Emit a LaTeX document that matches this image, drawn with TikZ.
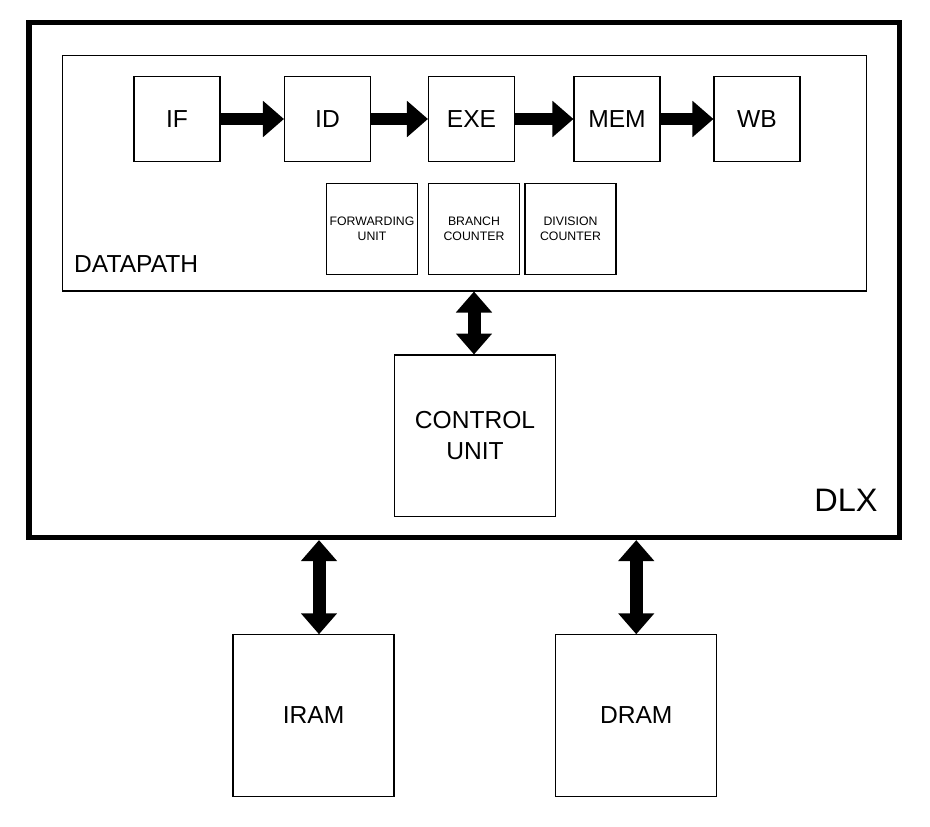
\documentclass[tikz,border=0pt]{standalone}
\usepackage{fontspec}
\setmainfont{Liberation Sans}
\usetikzlibrary{arrows.meta}
\tikzset{
  stage/.style={draw,line width=0.6pt,minimum width=1.72cm,minimum height=1.7cm,inner sep=0pt,font=\fontsize{14}{17.6}\selectfont},
  unitbox/.style={draw,line width=0.6pt,minimum width=1.82cm,minimum height=1.83cm,inner sep=0pt,align=center,font=\fontsize{7}{8.6}\selectfont},
  bigbox/.style={draw,line width=0.6pt,minimum width=3.22cm,minimum height=3.23cm,inner sep=0pt,align=center,font=\fontsize{14}{17.6}\selectfont},
  fatarrow/.style={line width=0.24cm,-{Triangle[width=0.7cm,length=0.42cm]}},
  dblarrow/.style={line width=0.26cm,{Triangle[width=0.7cm,length=0.42cm]}-{Triangle[width=0.7cm,length=0.42cm]}}
}
\begin{document}
\begin{tikzpicture}[x=0.02cm,y=-0.02cm]
  \useasboundingbox (0,0) rectangle (930,826);
  % outer boxes
  \node[draw,line width=3pt,minimum width=17.41cm,minimum height=10.3cm] (dlx) at (464.25,280) {};
  \node[draw,line width=0.6pt,minimum width=16.1cm,minimum height=4.72cm] (dp) at (464.5,173) {};
  % pipeline stages
  \node[stage] (if) at (177,119) {IF};
  \node[stage] (id) at (327.5,119) {ID};
  \node[stage] (exe) at (471.5,119) {EXE};
  \node[stage] (mem) at (617,119) {MEM};
  \node[stage] (wb) at (757,119) {WB};
  % small units
  \node[unitbox] (fwd) at (372,229) {FORWARDING\\UNIT};
  \node[unitbox] (brc) at (474,229) {BRANCH\\COUNTER};
  \node[unitbox] (dvc) at (570.5,229) {DIVISION\\COUNTER};
  % control and memories
  \node[bigbox] (cu) at (475,435.75) {CONTROL\\UNIT};
  \node[bigbox] (iram) at (313.5,715.5) {IRAM};
  \node[bigbox] (dram) at (636.25,715.5) {DRAM};
  % arrows
  \draw[fatarrow] (if) -- (id);
  \draw[fatarrow] (id) -- (exe);
  \draw[fatarrow] (exe) -- (mem);
  \draw[fatarrow] (mem) -- (wb);
  \draw[dblarrow] ([xshift=-0.02cm]cu.north |- dp.south) -- ([xshift=-0.02cm]cu.north);
  \draw[dblarrow] ([xshift=0.11cm]iram.north |- dlx.south) -- ([xshift=0.11cm]iram.north);
  \draw[dblarrow] (dram.north |- dlx.south) -- (dram.north);
  % text
  \node[anchor=west,font=\fontsize{14}{17}\selectfont] (dplabel) at (68,264) {DATAPATH};
  \node[font=\fontsize{18.5}{22}\selectfont] (dlxlabel) at (846,500) {DLX};
\end{tikzpicture}
\end{document}
